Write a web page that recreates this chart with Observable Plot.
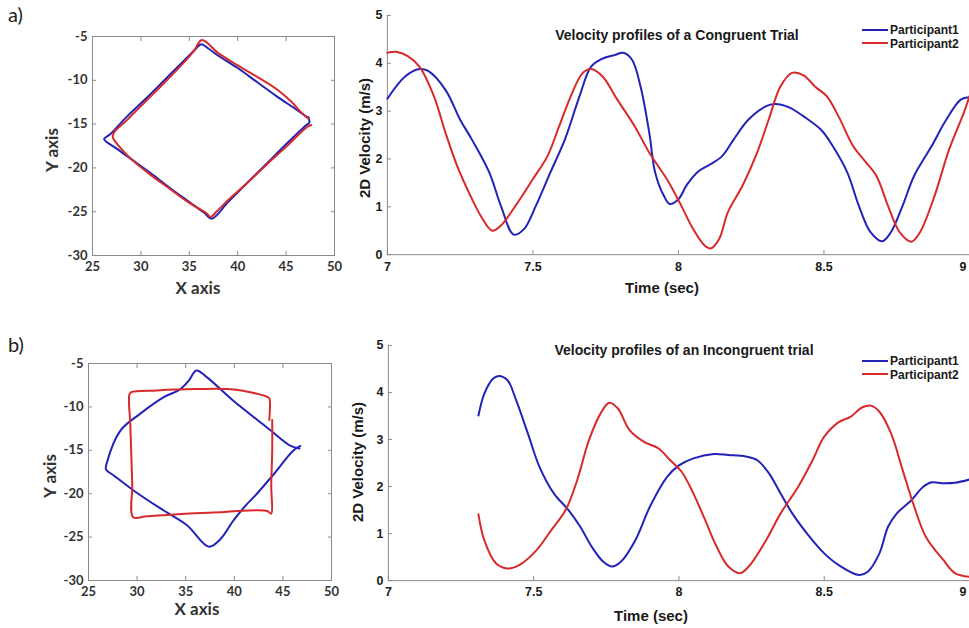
<!DOCTYPE html>
<html>
<head>
<meta charset="utf-8">
<script src="https://cdn.jsdelivr.net/npm/d3@7"></script>
<script src="https://cdn.jsdelivr.net/npm/@observablehq/plot@0.6"></script>
<style>
  html, body { margin: 0; padding: 0; background: #fff; overflow: hidden; }
  #root { position: relative; width: 969px; height: 628px; overflow: hidden; background: #fff; }
  .panel { position: absolute; }
  .txt { position: absolute; white-space: nowrap; transform: translate(-50%, -50%); }
  .rot { transform: translate(-50%, -50%) rotate(-90deg); }
  .lato { font-family: Lato, "Open Sans", sans-serif; font-weight: 700; color: #333; }
  .arial { font-family: "Liberation Sans", Arial, sans-serif; font-weight: 700; color: #1a1a1a; }
  .legend { position: absolute; font-family: "Liberation Sans", Arial, sans-serif; font-weight: 700; font-size: 12px; color: #1a1a1a; line-height: 13.5px; }
  .legend .sw { display: inline-block; width: 26px; height: 2px; vertical-align: middle; margin-right: 2px; position: relative; top: -1px; }
  .tag { position: absolute; font-family: Lato, "Open Sans", sans-serif; font-size: 20px; color: #222; }
</style>
</head>
<body>
<div id="root">
  <div class="tag" style="left:8px;top:2px">a)</div>
  <div class="tag" style="left:8px;top:332px">b)</div>
  <div id="aL" class="panel" style="left:0;top:0"></div>
  <div id="aR" class="panel" style="left:350px;top:0"></div>
  <div id="bL" class="panel" style="left:0;top:320px"></div>
  <div id="bR" class="panel" style="left:350px;top:320px"></div>

  <div class="txt lato" style="left:198px;top:287px;font-size:17px">X axis</div>
  <div class="txt lato rot" style="left:51px;top:150px;font-size:17px">Y axis</div>
  <div class="txt lato" style="left:197px;top:608px;font-size:17px">X axis</div>
  <div class="txt lato rot" style="left:49px;top:476px;font-size:17px">Y axis</div>

  <div class="txt arial" style="left:662px;top:287px;font-size:15px">Time (sec)</div>
  <div class="txt arial rot" style="left:364px;top:138px;font-size:15px">2D Velocity (m/s)</div>
  <div class="txt arial" style="left:651px;top:615px;font-size:15px">Time (sec)</div>
  <div class="txt arial rot" style="left:357px;top:462px;font-size:15px">2D Velocity (m/s)</div>

  <div class="txt arial" style="left:677px;top:35px;font-size:14px">Velocity profiles of a Congruent Trial</div>
  <div class="txt arial" style="left:684px;top:350px;font-size:14px">Velocity profiles of an Incongruent trial</div>

  <div class="legend" style="left:862px;top:24px">
    <div><span class="sw" style="background:#2222b8"></span>Participant1</div>
    <div><span class="sw" style="background:#d8292b"></span>Participant2</div>
  </div>
  <div class="legend" style="left:862px;top:355px">
    <div><span class="sw" style="background:#2222b8"></span>Participant1</div>
    <div><span class="sw" style="background:#d8292b"></span>Participant2</div>
  </div>
</div>
<script>
// ---------- data ----------
const BLUE = "#2222b8", RED = "#d8292b";

// trajectory ticks (left panels)
const xTicksTraj = [25, 30, 35, 40, 45, 50];
const yTicksTraj = [-30, -25, -20, -15, -10, -5];
// velocity ticks (right panels)
const xTicksTime = [7, 7.5, 8, 8.5, 9];
const yTicksVel = [0, 1, 2, 3, 4, 5];

// a) congruent trajectories [x, y]
const congruentTrajP1 = [
  [47.3,-14.2],[47.4,-14.8],[47.0,-15.2],[45,-17.3],[43,-19.5],[41,-21.7],[39,-23.9],[37.3,-25.8],
  [36.5,-25.1],[35,-23.9],[33,-22.3],[31,-20.6],[29,-19.0],[27.5,-17.8],[26.2,-16.7],
  [26.8,-16.2],[28.5,-14.2],[30.5,-12.1],[32.5,-9.9],[34.5,-7.7],[35.5,-6.6],[36.2,-5.9],
  [37,-6.4],[38,-7.2],[40,-8.6],[42,-10.2],[44,-11.8],[46,-13.3],[47.3,-14.3]
];
const congruentTrajP2 = [
  [47.6,-15.1],[47.2,-15.3],[45,-17.6],[43,-19.6],[41,-21.7],[39,-23.7],[37.8,-25.0],[37.2,-25.6],
  [36.8,-25.2],[35,-24.0],[33,-22.4],[31,-20.8],[29,-19.0],[27.8,-17.6],[27.1,-16.5],[27.2,-16.0],
  [28.5,-14.6],[30.5,-12.4],[32.5,-10.2],[34.5,-7.9],[35.5,-6.6],[36.3,-5.4],
  [38,-6.9],[40,-8.3],[42,-9.6],[44,-11.0],[45.5,-12.4],[46.5,-13.6],[47.3,-14.4]
];

// b) incongruent trajectories [x, y]
const incongruentTrajP1 = [
  [46.8,-14.5],[46.1,-15.0],[44.1,-17.7],[42.0,-20.4],[41.3,-21.2],[39.9,-23.1],[38.6,-25.2],[37.4,-26.1],
  [35.1,-23.6],[32.4,-21.7],[29.6,-19.6],[27.6,-17.9],[26.8,-17.2],[26.9,-16.4],
  [28.3,-12.7],[30.3,-10.8],[32.7,-8.9],[34.4,-8.0],[35.3,-7.0],[36.1,-5.8],
  [37.2,-6.6],[39.9,-9.3],[43.4,-12.4],[45.8,-14.5],[46.7,-14.8]
];
const incongruentTrajP2 = [
  [43.9,-11.5],[43.9,-15],[43.8,-19],[43.8,-22.3],[43.4,-22.0],[42.3,-21.9],[39,-22.1],[35,-22.3],
  [31,-22.6],[29.6,-22.7],[29.5,-19],[29.4,-15.4],[29.3,-12],[29.2,-8.6],[29.4,-8.3],
  [32,-8.1],[36,-7.95],[40,-8.0],[43.3,-8.8],[43.6,-9.0],[43.6,-11.5]
];

// a) congruent velocity profiles [time, velocity]
const congruentVelP1 = [
  [7.00,3.26],[7.06,3.72],[7.11,3.88],[7.14,3.84],[7.20,3.44],[7.25,2.82],[7.29,2.41],[7.35,1.72],
  [7.39,1.02],[7.434,0.42],[7.47,0.54],[7.51,1.02],[7.56,1.72],[7.61,2.41],[7.66,3.31],[7.70,3.93],
  [7.74,4.10],[7.78,4.17],[7.81,4.22],[7.84,4.08],[7.87,3.51],[7.90,2.54],[7.92,1.72],[7.95,1.23],
  [7.97,1.06],[8.00,1.16],[8.03,1.47],[8.07,1.75],[8.11,1.89],[8.15,2.06],[8.19,2.41],[8.24,2.82],
  [8.30,3.10],[8.33,3.15],[8.38,3.08],[8.43,2.89],[8.49,2.61],[8.53,2.27],[8.58,1.72],[8.62,1.02],
  [8.66,0.47],[8.70,0.28],[8.73,0.47],[8.77,1.02],[8.81,1.65],[8.87,2.27],[8.92,2.82],[8.97,3.24],[9.00,3.29]
];
const congruentVelP2 = [
  [7.00,4.22],[7.03,4.24],[7.07,4.15],[7.11,3.93],[7.16,3.31],[7.20,2.54],[7.24,1.85],[7.28,1.30],
  [7.32,0.82],[7.36,0.50],[7.39,0.61],[7.44,1.02],[7.50,1.58],[7.55,2.06],[7.59,2.68],[7.63,3.31],
  [7.67,3.79],[7.70,3.88],[7.74,3.72],[7.79,3.24],[7.85,2.68],[7.90,2.13],[7.96,1.58],[8.01,1.02],
  [8.05,0.54],[8.09,0.19],[8.11,0.13],[8.14,0.33],[8.17,0.89],[8.22,1.44],[8.27,2.13],[8.31,2.82],
  [8.35,3.51],[8.39,3.80],[8.43,3.75],[8.47,3.51],[8.51,3.31],[8.55,2.89],[8.60,2.27],[8.64,1.96],
  [8.68,1.65],[8.72,1.02],[8.76,0.47],[8.80,0.27],[8.83,0.47],[8.88,1.23],[8.93,2.20],[8.98,2.96],[9.00,3.31]
];

// b) incongruent velocity profiles [time, velocity]
const incongruentVelP1 = [
  [7.31,3.51],[7.33,3.97],[7.36,4.29],[7.38,4.35],[7.41,4.26],[7.44,3.83],[7.48,3.13],[7.52,2.42],
  [7.57,1.85],[7.62,1.50],[7.66,1.15],[7.70,0.72],[7.74,0.40],[7.77,0.30],[7.80,0.40],[7.85,0.86],
  [7.90,1.57],[7.96,2.21],[8.00,2.45],[8.05,2.60],[8.12,2.69],[8.17,2.67],[8.23,2.64],[8.27,2.56],
  [8.31,2.28],[8.35,1.85],[8.39,1.43],[8.45,0.93],[8.50,0.58],[8.55,0.33],[8.62,0.12],[8.65,0.19],
  [8.69,0.58],[8.72,1.15],[8.75,1.43],[8.80,1.71],[8.84,1.99],[8.87,2.09],[8.91,2.07],[8.95,2.08],[9.00,2.15]
];
const incongruentVelP2 = [
  [7.31,1.41],[7.33,0.86],[7.37,0.37],[7.41,0.26],[7.45,0.33],[7.51,0.65],[7.56,1.07],[7.61,1.50],
  [7.65,2.14],[7.69,2.98],[7.73,3.55],[7.76,3.78],[7.79,3.66],[7.83,3.20],[7.88,2.95],[7.93,2.81],
  [7.97,2.56],[8.01,2.31],[8.05,1.85],[8.09,1.29],[8.13,0.72],[8.17,0.30],[8.21,0.16],[8.24,0.30],
  [8.30,0.86],[8.35,1.43],[8.41,1.99],[8.46,2.56],[8.50,3.06],[8.55,3.37],[8.59,3.48],[8.63,3.68],
  [8.66,3.72],[8.69,3.59],[8.73,3.13],[8.77,2.35],[8.81,1.57],[8.85,0.93],[8.91,0.44],[8.95,0.16],[9.00,0.08]
];

// ---------- drawing ----------
const fmt = d => String(d);
const AXIS_GRAY = "#8a8a8a";
const lastTime = xTicksTime[xTicksTime.length - 1];

function trajPlot(p1, p2, m) {
  return Plot.plot({
    width: 350, height: 300,
    marginLeft: m.left, marginRight: m.right, marginTop: m.top, marginBottom: m.bottom,
    x: {domain: [25, 50]},
    y: {domain: [-30, -5]},
    style: {fontFamily: "Lato, 'Open Sans', sans-serif", fontSize: "13px", fontWeight: 700, color: "#333", background: "transparent", overflow: "visible"},
    marks: [
      Plot.frame({stroke: AXIS_GRAY}),
      Plot.axisX(xTicksTraj, {tickSize: -4, tickPadding: 10, tickFormat: fmt, label: null, stroke: AXIS_GRAY, fill: "#333"}),
      Plot.axisX(xTicksTraj, {anchor: "top", tickSize: -4, tickFormat: () => "", label: null, stroke: AXIS_GRAY}),
      Plot.axisY(yTicksTraj, {tickSize: -4, tickPadding: 9, tickFormat: fmt, label: null, stroke: AXIS_GRAY, fill: "#333"}),
      Plot.axisY(yTicksTraj, {anchor: "right", tickSize: -4, tickFormat: () => "", label: null, stroke: AXIS_GRAY}),
      Plot.line(p1, {x: d => d[0], y: d => d[1], stroke: BLUE, strokeWidth: 2, curve: "catmull-rom"}),
      Plot.line(p2, {x: d => d[0], y: d => d[1], stroke: RED, strokeWidth: 2, curve: "catmull-rom"})
    ]
  });
}

function velPlot(p1, p2, m) {
  return Plot.plot({
    width: 621, height: 300,
    marginLeft: m.left, marginRight: 0, marginTop: m.top, marginBottom: m.bottom,
    x: {domain: [7, 9]},
    y: {domain: [0, 5]},
    style: {fontFamily: "'Liberation Sans', Arial, sans-serif", fontSize: "12.5px", fontWeight: 700, color: "#1a1a1a", background: "transparent", overflow: "visible"},
    marks: [
      Plot.ruleY([0], {stroke: AXIS_GRAY}),
      Plot.ruleX([7], {stroke: AXIS_GRAY}),
      Plot.axisX(xTicksTime, {tickSize: -4, tickPadding: 11, tickFormat: d => d === lastTime ? "" : fmt(d), label: null, stroke: AXIS_GRAY, fill: "#1a1a1a"}),
      // last tick label sits at the cut right edge: keep it visible, anchored at its end
      Plot.text([lastTime], {x: d => d, y: 0, text: fmt, textAnchor: "end", lineAnchor: "top", dy: 7, dx: -3, fill: "#1a1a1a"}),
      Plot.axisY(yTicksVel, {tickSize: -4, tickPadding: 9, tickFormat: fmt, label: null, stroke: AXIS_GRAY, fill: "#1a1a1a"}),
      Plot.line(p1, {x: d => d[0], y: d => d[1], stroke: BLUE, strokeWidth: 2, curve: "catmull-rom"}),
      Plot.line(p2, {x: d => d[0], y: d => d[1], stroke: RED, strokeWidth: 2, curve: "catmull-rom"})
    ]
  });
}

document.getElementById("aL").append(trajPlot(congruentTrajP1, congruentTrajP2, {left: 92, right: 16, top: 36, bottom: 45}));
document.getElementById("bL").append(trajPlot(incongruentTrajP1, incongruentTrajP2, {left: 88, right: 19, top: 43, bottom: 40}));
document.getElementById("aR").append(velPlot(congruentVelP1, congruentVelP2, {left: 37, top: 15, bottom: 45}));
document.getElementById("bR").append(velPlot(incongruentVelP1, incongruentVelP2, {left: 38, top: 25, bottom: 39}));
</script>
</body>
</html>
